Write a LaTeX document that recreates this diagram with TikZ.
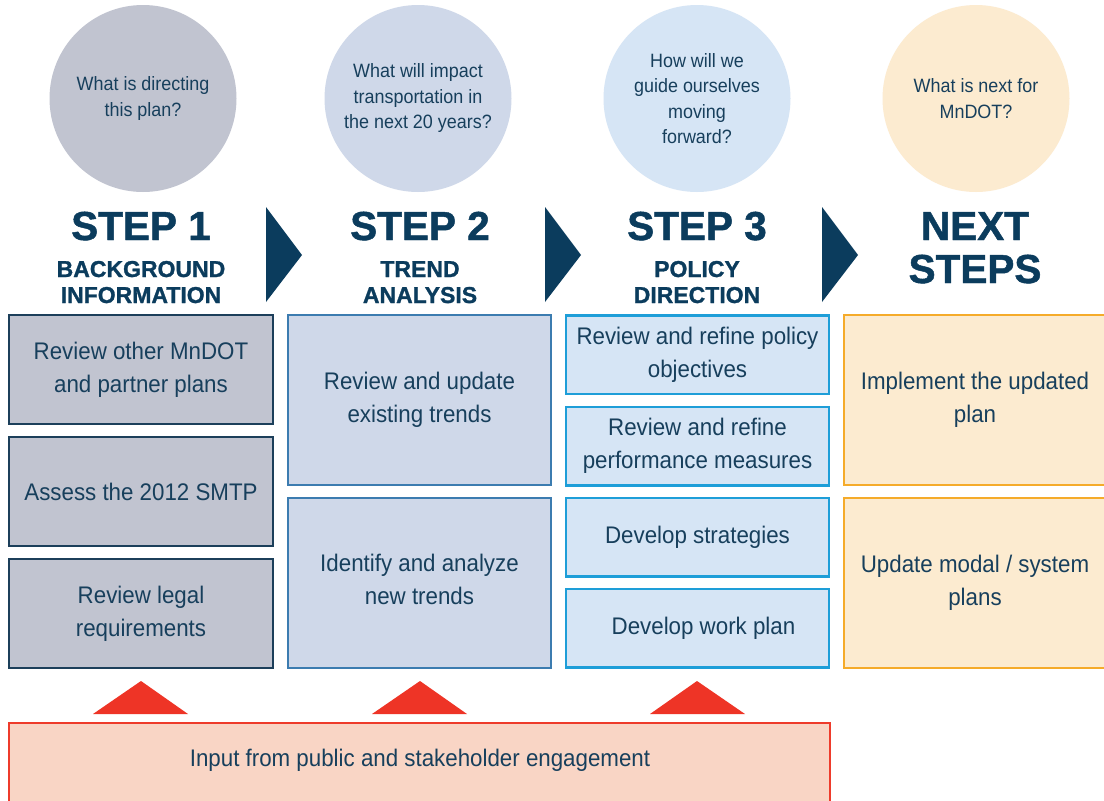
\documentclass[tikz,border=0pt]{standalone}
\usepackage{fontspec}
\setmainfont{Liberation Sans}
\newfontfamily\narrowfont{Liberation Sans}[FakeStretch=0.93]
\newfontfamily\heavyfont{Liberation Sans}[BoldFeatures={FakeBold=1.2}]
\definecolor{navy}{HTML}{0B3C5D}
\definecolor{txt}{HTML}{173F5C}
\definecolor{c1fill}{HTML}{C1C4D0}
\definecolor{c1line}{HTML}{1C3F5A}
\definecolor{c2fill}{HTML}{CFD8E9}
\definecolor{c2line}{HTML}{3C7CB0}
\definecolor{c3fill}{HTML}{D6E5F5}
\definecolor{c3line}{HTML}{1E9ED8}
\definecolor{c4fill}{HTML}{FCEBD0}
\definecolor{c4line}{HTML}{F5AB2A}
\definecolor{rfill}{HTML}{F9D5C5}
\definecolor{rline}{HTML}{EE3B2B}
\definecolor{rtri}{HTML}{EE3426}
\begin{document}
\begin{tikzpicture}[x=1pt,y=-1pt,
  question/.style={circle, minimum size=187pt, inner sep=0pt, align=center,
    text=txt, font=\narrowfont\fontsize{19.3}{25.5}\selectfont},
  stepbox/.style={draw, line width=2.5pt, inner sep=0pt, align=center,
    text=txt, font=\narrowfont\fontsize{24}{33}\selectfont},
  bigtitle/.style={anchor=base, text=navy, font=\heavyfont\bfseries\fontsize{40.5}{43}\selectfont},
  subtitle/.style={anchor=base, text=navy, font=\heavyfont\bfseries\fontsize{23}{26}\selectfont},
  chevron/.style={fill=navy},
  uptri/.style={fill=rtri}
]
\clip (0,0) rectangle (1104,801);
\fill[white] (0,0) rectangle (1104,801);

% question circles
\node[question, fill=c1fill] (q1) at (143,98.5) {What is directing\\this plan?};
\node[question, fill=c2fill] (q2) at (418,98.5) {What will impact\\transportation in\\the next 20 years?};
\node[question, fill=c3fill] (q3) at (697,98.5) {How will we\\guide ourselves\\moving\\forward?};
\node[question, fill=c4fill] (q4) at (976,98.5) {What is next for\\MnDOT?};

% titles
\node[bigtitle] (t1) at (141,240) {STEP 1};
\node[subtitle] (s1a) at (141,277) {BACKGROUND};
\node[subtitle] (s1b) at (141,303) {INFORMATION};
\node[bigtitle] (t2) at (420,240) {STEP 2};
\node[subtitle] (s2a) at (420,277) {TREND};
\node[subtitle] (s2b) at (420,303) {ANALYSIS};
\node[bigtitle] (t3) at (697,240) {STEP 3};
\node[subtitle] (s3a) at (697,277) {POLICY};
\node[subtitle] (s3b) at (697,303) {DIRECTION};
\node[bigtitle] (t4a) at (975,240) {NEXT};
\node[bigtitle] (t4b) at (975,283) {STEPS};

% chevrons
\fill[chevron] (266,207) -- (302,255) -- (266,302) -- cycle;
\fill[chevron] (545,207) -- (581,255) -- (545,302) -- cycle;
\fill[chevron] (822,207) -- (858,255) -- (822,302) -- cycle;

% column 1
\tikzset{col1/.style={stepbox, draw=c1line, fill=c1fill, minimum width=264pt, minimum height=109pt}}
\node[col1] (b11) at (141,369.5) {Review other MnDOT\\and partner plans};
\node[col1] (b12) at (141,491.5) {Assess the 2012 SMTP};
\node[col1] (b13) at (141,613.5) {Review legal\\requirements};

% column 2
\tikzset{col2/.style={stepbox, draw=c2line, fill=c2fill, minimum width=263pt, minimum height=170pt}}
\node[col2] (b21) at (419.5,400) {Review and update\\existing trends};
\node[col2] (b22) at (419.5,583) {Identify and analyze\\new trends\\[-25pt]\mbox{}};

% column 3
\tikzset{col3/.style={stepbox, draw=c3line, fill=c3fill, minimum width=263pt, minimum height=78.5pt}}
\node[col3] (b31) at (697.5,354.5) {Review and refine policy\\objectives};
\node[col3] (b32) at (697.5,446) {Review and refine\\performance measures};
\node[col3] (b33) at (697.5,537) {Develop strategies};
\node[col3] (b34) at (697.5,628) {\hspace*{12pt}Develop work plan};

% column 4
\tikzset{col4/.style={stepbox, draw=c4line, fill=c4fill, minimum width=276pt, minimum height=170pt}}
\node[col4] (b41) at (982,400) {\hspace*{-14pt}Implement the updated\\\hspace*{-14pt}plan};
\node[col4] (b42) at (982,583) {\hspace*{-14pt}Update modal / system\\\hspace*{-14pt}plans\\[-27pt]\mbox{}};

% engagement box
\draw[line width=2.5pt, draw=rline, fill=rfill] (9,723) rectangle (830,840);
\node[text=txt, font=\narrowfont\fontsize{24}{33}\selectfont] (eng) at (420,760) {Input from public and stakeholder engagement};

% red triangles
\fill[uptri] (93,714) -- (141,681) -- (188,714) -- cycle;
\fill[uptri] (372,714) -- (420,681) -- (467,714) -- cycle;
\fill[uptri] (650,714) -- (697,681) -- (745,714) -- cycle;
\end{tikzpicture}
\end{document}
